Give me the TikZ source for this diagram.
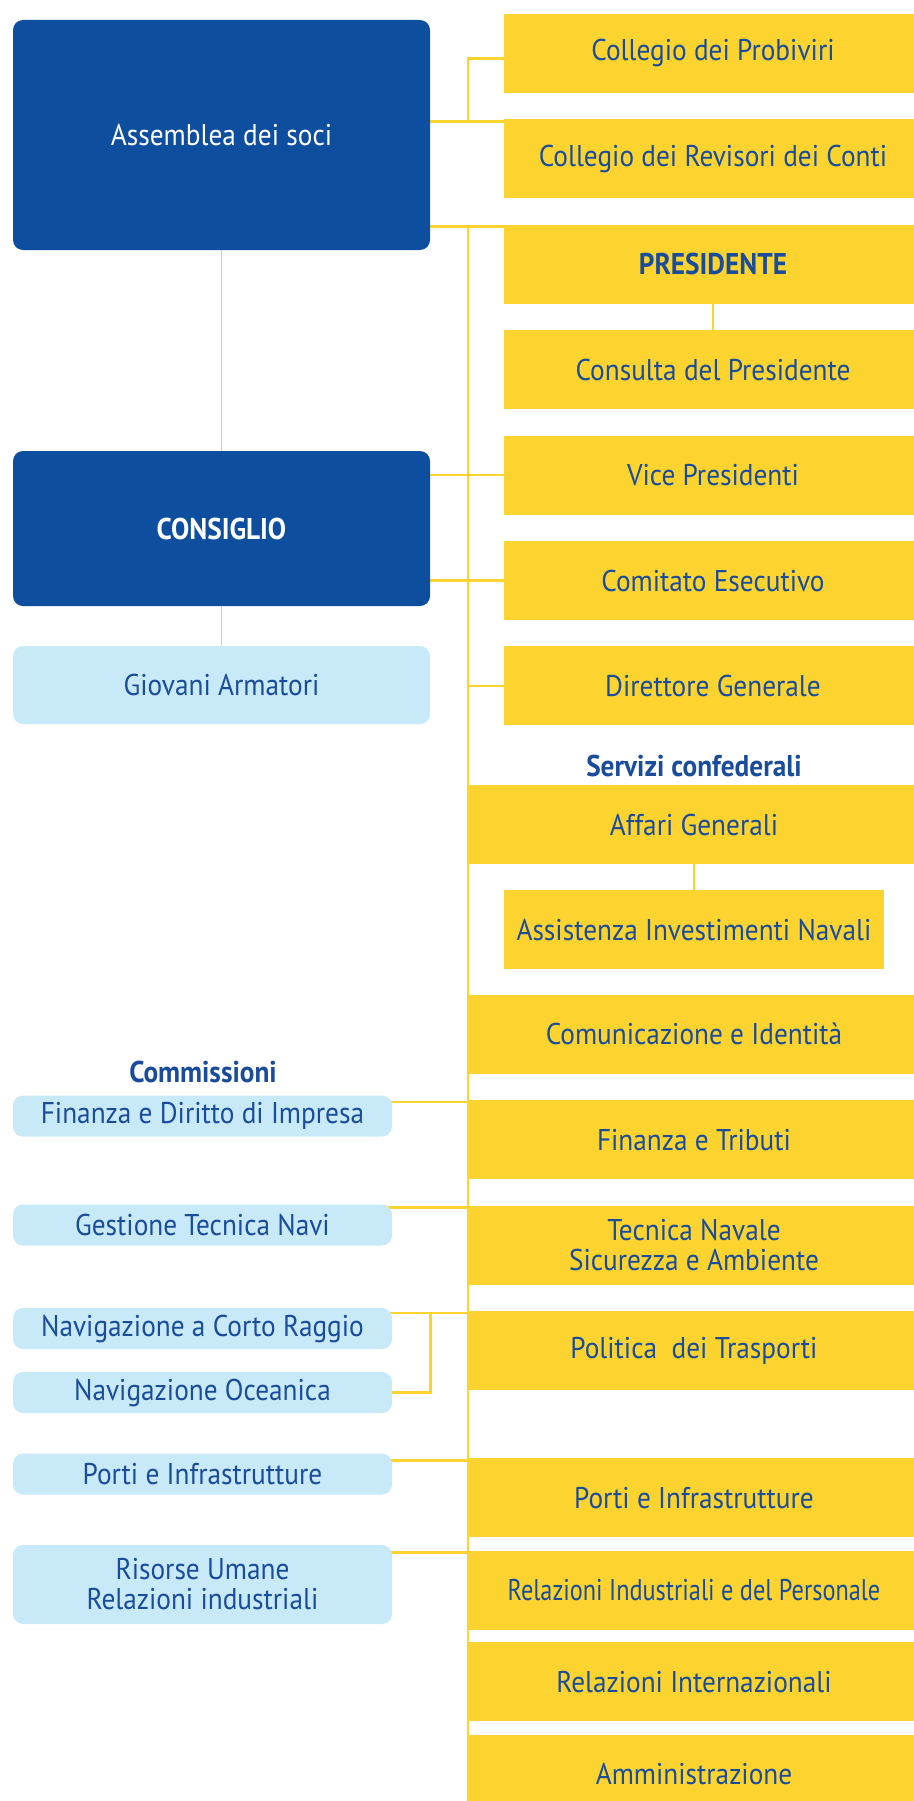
\documentclass[tikz,border=0pt]{standalone}
\usepackage{fontspec}
\setmainfont{PT Sans}[FakeStretch=0.91]
\usetikzlibrary{positioning,calc,backgrounds}
\definecolor{navy}{HTML}{0E4E9F}
\definecolor{inkblue}{HTML}{1A4C9C}
\definecolor{gold}{HTML}{FDD42F}
\definecolor{sky}{HTML}{C8E9F8}
\newcommand{\boxfont}{\fontsize{30}{30}\selectfont}

\begin{document}
\begin{tikzpicture}[x=1pt, y=1pt, node distance=26pt]
  \tikzstyle{organ}=[rectangle, rounded corners=10pt, fill=navy, text=white, minimum width=417pt, inner sep=0pt, font=\boxfont, align=center]
  \tikzstyle{office}=[rectangle, fill=gold, text=inkblue, minimum width=418pt, minimum height=79pt, inner sep=0pt, font=\boxfont, align=center]
  \tikzstyle{service}=[office, minimum width=452pt]
  \tikzstyle{commission}=[rectangle, rounded corners=10pt, fill=sky, text=inkblue, minimum width=379pt, minimum height=41pt, inner sep=0pt, font=\boxfont, align=center]
  \tikzstyle{heading}=[text=inkblue, font=\boxfont\bfseries]
  \tikzstyle{link}=[draw=gold, line width=2.6pt]
  \tikzstyle{sublink}=[draw=gold, line width=1.6pt]

  \useasboundingbox (0,0) rectangle (913,-1801);

  \node[organ, minimum height=230pt] (asm) at (221.5,-135) {Assemblea dei soci};
  \node[organ, minimum height=155pt, font=\boxfont\bfseries] (cons) at (221.5,-528.5) {CONSIGLIO};
  \node[commission, minimum width=417pt, minimum height=78pt] (giov) at (221.5,-685) {Giovani Armatori};

  \node[office] (prob) at (713,-53.5) {Collegio dei Probiviri};
  \node[office, below=of prob] (rev) {Collegio dei Revisori dei Conti};
  \node[office, below=of rev, font=\boxfont\bfseries] (pres) {PRESIDENTE};
  \node[office, below=of pres] (consulta) {Consulta del Presidente};
  \node[office, below=of consulta] (vice) {Vice Presidenti};
  \node[office, below=of vice] (comit) {Comitato Esecutivo};
  \node[office, below=of comit] (dir) {Direttore Generale};

  \node[heading] (servizi) at (694,-766) {Servizi confederali};
  \node[service] (aff) at (694,-824.5) {Affari Generali};
  \node[office, minimum width=380pt, below=of aff] (assi) {Assistenza Investimenti Navali};
  \node[service, below=25pt of assi] (comu) {Comunicazione e Identità};
  \node[service, below=of comu] (fin) {Finanza e Tributi};
  \node[service, below=of fin] (tec) {Tecnica Navale\\Sicurezza e Ambiente};
  \node[service, below=of tec] (pol) {Politica~ dei Trasporti};
  \node[service, below=68pt of pol] (porti) {Porti e Infrastrutture};
  \node[service, below=13pt of porti, font=\boxfont\addfontfeatures{FakeStretch=0.81}] (relind) {Relazioni Industriali e del Personale};
  \node[service, below=12pt of relind] (relint) {Relazioni Internazionali};
  \node[service, below=13pt of relint] (amm) {Amministrazione};

  \node[heading] (commissioni) at (203,-1072) {Commissioni};
  \node[commission] (cfin) at (202.5,-1116) {Finanza e Diritto di Impresa};
  \node[commission] (cges) at (202.5,-1225) {Gestione Tecnica Navi};
  \node[commission] (ccorto) at (202.5,-1328.5) {Navigazione a Corto Raggio};
  \node[commission] (cocea) at (202.5,-1392.5) {Navigazione Oceanica};
  \node[commission] (cporti) at (202.5,-1474) {Porti e Infrastrutture};
  \node[commission, minimum height=79pt] (crisorse) at (202.5,-1584.5) {Risorse Umane\\Relazioni industriali};

  \coordinate (bus) at (468,0);
  \coordinate (jrev) at ([yshift=-2pt]rev.north west);
  \coordinate (jpres) at ([yshift=-2pt]pres.north west);

  \begin{scope}[on background layer]
    \draw[link] (asm.east |- jrev) -- (jrev);
    \draw[link] ([yshift=-5pt]prob.west) -| (bus |- jrev);
    \draw[link] (asm.east |- jpres) -- (jpres);
    \draw[link] (bus |- jpres) -- (bus |- amm.south);
    \draw[link] (cons.east |- vice.west) -- (vice.west);
    \draw[link] (cons.east |- comit.west) -- (comit.west);
    \draw[link] (bus |- dir.west) -- (dir.west);
    \draw[sublink] (asm) -- (cons);
    \draw[sublink] (cons) -- (giov);
    \draw[sublink] (pres) -- (consulta);
    \draw[sublink] (aff) -- (assi);
    \foreach \c/\s in {cfin/fin, cges/tec, ccorto/pol, cporti/porti, crisorse/relind} {
      \coordinate (j\s) at ([yshift=-2pt]\s.north west);
      \draw[link] (j\s) -- (j\s -| \c.center);
    }
    \draw[link] (cocea.center) -| (jpol -| asm.east);
  \end{scope}
\end{tikzpicture}
\end{document}
